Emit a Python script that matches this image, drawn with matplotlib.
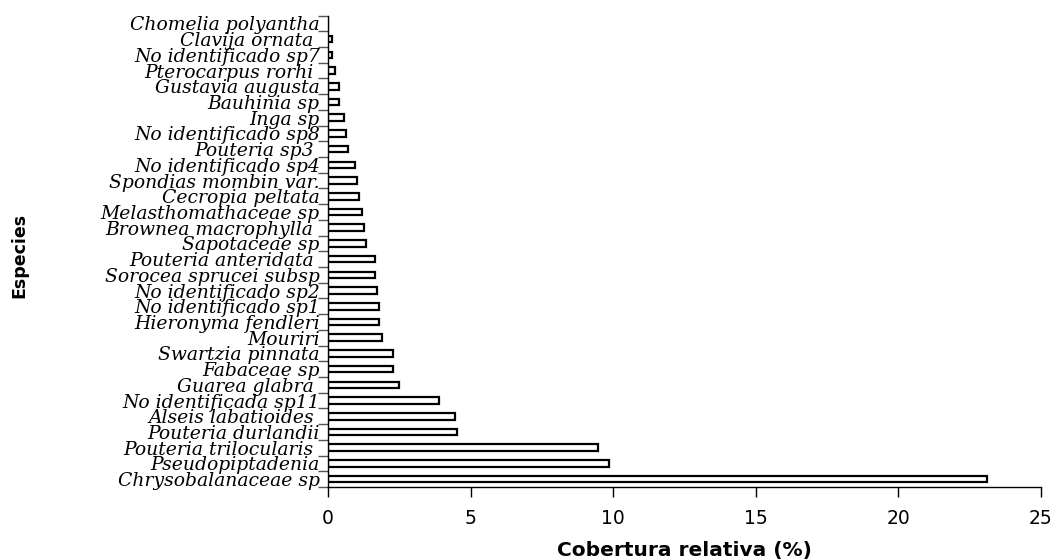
import matplotlib.pyplot as plt

# especies, de arriba hacia abajo
especies = [
    "Chomelia polyantha", "Clavija ornata ", "No identificado sp7",
    "Pterocarpus rorhi ", "Gustavia augusta", "Bauhinia sp", "Inga sp",
    "No identificado sp8", "Pouteria sp3 ", "No identificado sp4",
    "Spondias mombin var.", "Cecropia peltata", "Melasthomathaceae sp",
    "Brownea macrophylla ", "Sapotaceae sp", "Pouteria anteridata ",
    "Sorocea sprucei subsp", "No identificado sp2", "No identificado sp1",
    "Hieronyma fendleri", "Mouriri", "Swartzia pinnata", "Fabaceae sp",
    "Guarea glabra ", "No identificada sp11", "Alseis labatioides ",
    "Pouteria durlandii", "Pouteria trilocularis ", "Pseudopiptadenia",
    "Chrysobalanaceae sp",
]
cobertura = [
    0.0, 0.15, 0.15, 0.23, 0.40, 0.40, 0.55, 0.62, 0.70, 0.94,
    1.02, 1.10, 1.18, 1.25, 1.32, 1.64, 1.64, 1.72, 1.80, 1.80,
    1.88, 2.27, 2.27, 2.50, 3.91, 4.46, 4.54, 9.47, 9.85, 23.1,
]

n = len(especies)
pos = list(range(n - 1, -1, -1))

fig = plt.figure(figsize=(10.59, 5.6), dpi=100)
ax = fig.add_axes([0.3097, 0.1304, 0.6733, 0.8419])

ax.barh(pos, cobertura, height=0.42, color="white", edgecolor="black", linewidth=1.6)

ax.set_xlim(0, 25)
ax.set_ylim(-0.5, n - 0.5)
ax.set_xticks([0, 5, 10, 15, 20, 25])
ax.tick_params(axis="x", direction="out", length=7, width=1, pad=9, labelsize=13.5)
for t in ax.get_xticklabels():
    t.set_family("DejaVu Sans")

# marcas del eje y entre categorias, etiquetas centradas
ax.set_yticks([p - 0.5 for p in range(n + 1)])
ax.set_yticklabels([])
ax.tick_params(axis="y", which="major", direction="out", length=7, width=1, color="#555555")
ax.set_yticks(pos, minor=True)
ax.set_yticklabels(especies, minor=True, family="DejaVu Serif", style="italic", fontsize=13.5)
ax.tick_params(axis="y", which="minor", length=0, pad=6)

for s in ["top", "right"]:
    ax.spines[s].set_visible(False)
for s in ["left", "bottom"]:
    ax.spines[s].set_linewidth(1)

ax.set_xlabel("Cobertura relativa (%)", family="DejaVu Sans", fontsize=14.5,
              fontweight="bold", labelpad=9)
fig.text(0.018, 0.543, "Especies", rotation=90, ha="center", va="center",
         family="Liberation Sans Narrow", fontsize=12.5, fontweight="bold")

fig.savefig("out.png", dpi=100)
